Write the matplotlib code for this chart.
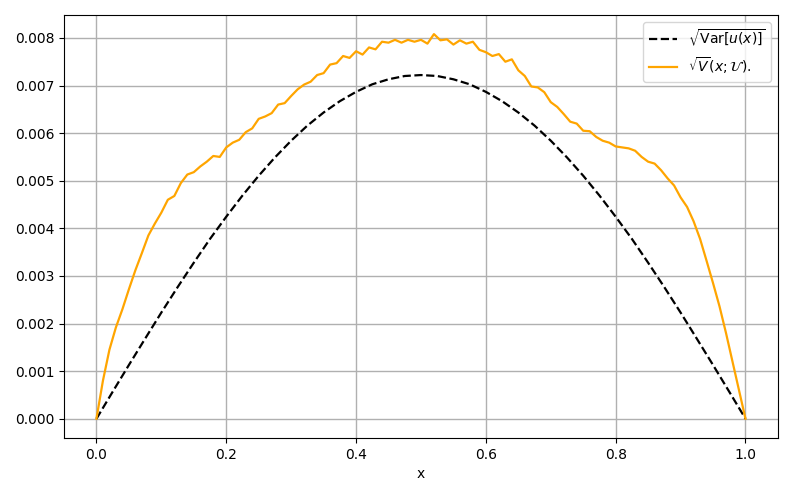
import numpy as np
import matplotlib
matplotlib.use("Agg")
import matplotlib.pyplot as plt

# values in units of 1e-3
x_fine = [i / 100 for i in range(101)]
v_est = [
    0.00, 0.80, 1.45, 1.92, 2.30, 2.72, 3.12, 3.48, 3.85, 4.10,
    4.33, 4.60, 4.68, 4.95, 5.13, 5.18, 5.30, 5.40, 5.52, 5.50,
    5.70, 5.80, 5.86, 6.02, 6.10, 6.30, 6.35, 6.42, 6.60, 6.63,
    6.78, 6.92, 7.02, 7.08, 7.22, 7.26, 7.44, 7.47, 7.62, 7.58,
    7.72, 7.65, 7.80, 7.76, 7.92, 7.90, 7.96, 7.90, 7.96, 7.92,
    7.96, 7.88, 8.08, 7.95, 7.97, 7.86, 7.95, 7.88, 7.92, 7.75,
    7.70, 7.62, 7.66, 7.50, 7.55, 7.32, 7.20, 6.98, 6.96, 6.86,
    6.65, 6.55, 6.40, 6.24, 6.20, 6.05, 6.04, 5.92, 5.84, 5.80,
    5.72, 5.70, 5.68, 5.63, 5.50, 5.40, 5.36, 5.22, 5.05, 4.90,
    4.65, 4.45, 4.15, 3.78, 3.32, 2.85, 2.36, 1.80, 1.20, 0.60,
    0.00,
]

x_coarse = [i / 40 for i in range(41)]
std_half = [0.000, 0.567, 1.129, 1.682, 2.231, 2.763, 3.278, 3.778, 4.244, 4.689,
            5.105, 5.489, 5.841, 6.158, 6.433, 6.671, 6.867, 7.026, 7.131, 7.200, 7.220]
std_true = std_half + std_half[-2::-1]

fig = plt.figure(figsize=(7.93, 4.96), dpi=100)
ax = fig.add_axes([0.0807, 0.117, 0.9003, 0.853])

ax.plot(x_coarse, np.array(std_true) * 1e-3, 'k--', lw=1.6,
        label=r'$\sqrt{\mathrm{Var}[u(x)]}$')
ax.plot(x_fine, np.array(v_est) * 1e-3, color='orange', lw=1.6,
        label=r'$\sqrt{V}(x;\mathcal{U}).$')

ax.set_xlabel('x')
ax.yaxis.set_major_formatter(matplotlib.ticker.FormatStrFormatter('%.3f'))
ax.grid(True, color='#b0b0b0', lw=1.0)
ax.legend(loc='upper right')

fig.savefig('out.png', dpi=100)
